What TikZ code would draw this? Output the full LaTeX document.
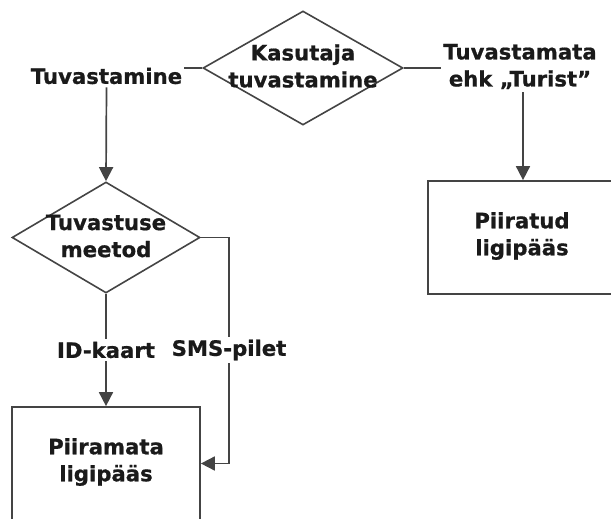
\documentclass[tikz,border=0pt]{standalone}
\usepackage{fontspec}
\setmainfont{DejaVu Sans}[BoldFeatures={FakeBold=0.8}]
\usetikzlibrary{shapes.geometric,arrows.meta,calc}
\definecolor{linegray}{HTML}{444444}
\definecolor{textblack}{HTML}{1A1A1A}
\tikzset{
  conn/.style={draw=linegray, line width=1.7pt},
  arr/.style={conn, -{Triangle[width=14pt,length=14pt]}},
  decision/.style={diamond, draw=linegray, line width=1.6pt, inner sep=0pt, minimum width=#1},
  txt/.style={text=textblack, font=\fontsize{21.2}{27}\selectfont\bfseries, align=center, inner xsep=2pt, inner ysep=3pt},
  boxnode/.style={draw=linegray, line width=1.7pt, minimum height=113pt}
}
\begin{document}
\begin{tikzpicture}[x=1pt,y=-1pt]
\useasboundingbox (0,0) rectangle (611,519);
\clip (0,0) rectangle (611,519);
% decisions
\node[decision=200pt, minimum height=114pt] (d1) at (303,68) {};
\node[txt] (d1t) at (303,66) {Kasutaja\\tuvastamine};
\node[decision=188pt, minimum height=111pt] (d2) at (106,237.5) {};
\node[txt] (d2t) at (106,236) {Tuvastuse\\meetod};
% boxes
\node[boxnode, minimum width=192pt] (b1) at (524,237.5) {};
\node[txt] (b1t) at (522,236) {Piiratud\\ligipääs};
\node[boxnode, minimum width=188pt] (b2) at (106,463.5) {};
\node[txt] (b2t) at (106,462) {Piiramata\\ligipääs};
% edge labels
\node[txt] (lt) at (106.5,76) {Tuvastamine};
\node[txt] (rt) at (520,66.5) {Tuvastamata\\ehk „Turist”};
\node[txt] (idl) at (106,350) {ID-kaart};
\node[txt] (sms) at (229,350) {SMS-pilet};
% connectors
\draw[conn] (d1.west) -- (lt.east |- d1.west);
\draw[arr] (lt.south) -- (d2.north);
\draw[conn] (d1.east) -- (rt.west |- d1.east);
\draw[arr] (rt.south -| 523,0) -- (b1.north -| 523,0);
\draw[conn] (d2.south) -- (idl.north -| d2.south);
\draw[arr] (idl.south -| b2.north) -- (b2.north);
\draw[conn] (d2.east) -| (sms.north);
\draw[arr] (sms.south) |- (b2.east);
\end{tikzpicture}
\end{document}
